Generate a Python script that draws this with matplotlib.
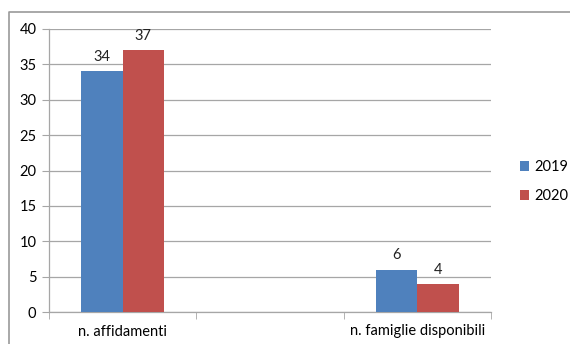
import numpy as np
import matplotlib

matplotlib.use("Agg")
import matplotlib.pyplot as plt
from matplotlib.lines import Line2D

categories = ["n. affidamenti", "", "n. famiglie disponibili"]
series = ["2019", "2020"]
v2019 = [34, np.nan, 6]
v2020 = [37, np.nan, 4]
yticks = [0, 5, 10, 15, 20, 25, 30, 35, 40]

BLUE = "#4F81BD"
RED = "#C0504D"
GRID = "#A6A6A6"
FS = 10.5

plt.rcParams["font.family"] = ["Lato", "DejaVu Sans"]

fig = plt.figure(figsize=(5.7, 3.44), dpi=100)
ax = fig.add_axes([49 / 570, 1 - 312 / 344, (491 - 49) / 570, (312 - 29) / 344])

x = np.arange(len(categories))
w = 0.28
for vals, off, col, lab in ((v2019, -w / 2, BLUE, series[0]),
                            (v2020, w / 2, RED, series[1])):
    ax.bar(x + off, vals, width=w, color=col, label=lab, zorder=3)
    for xi, v in zip(x + off, vals):
        if np.isnan(v):
            continue
        ax.text(xi, v + 1.0, "%d" % v, ha="center", va="bottom",
                fontsize=FS, color="#222222")

ax.set_xlim(-0.5, len(categories) - 0.5)
ax.set_ylim(0, 40)
ax.set_yticks(yticks)
ax.yaxis.grid(True, color=GRID, lw=0.9, zorder=0)
ax.set_axisbelow(True)

# category labels sit between boundary ticks
ax.set_xticks(x)
ax.set_xticklabels(categories)
ax.set_xticks(np.arange(len(categories) + 1) - 0.5, minor=True)
ax.tick_params(axis="x", which="major", length=0, pad=9, labelsize=FS)
ax.tick_params(axis="x", which="minor", length=5, color=GRID)
ax.tick_params(axis="y", length=5, color=GRID, labelsize=FS, pad=4)

for s in ("top", "right"):
    ax.spines[s].set_visible(False)
for s in ("left", "bottom"):
    ax.spines[s].set_color(GRID)
    ax.spines[s].set_linewidth(0.9)

ax.legend(loc="center left", bbox_to_anchor=(1.035, 0.46), frameon=False,
          fontsize=FS, handlelength=0.65, handleheight=0.65,
          handletextpad=0.35, labelspacing=1.05)

# outer chart frame (top and left edges)
fig.add_artist(Line2D([9 / 570, 9 / 570, 1.0], [0.0, 1 - 12 / 344, 1 - 12 / 344],
                      transform=fig.transFigure, color="#9A9A9A", lw=1.2))

fig.savefig("out.png", dpi=100)
